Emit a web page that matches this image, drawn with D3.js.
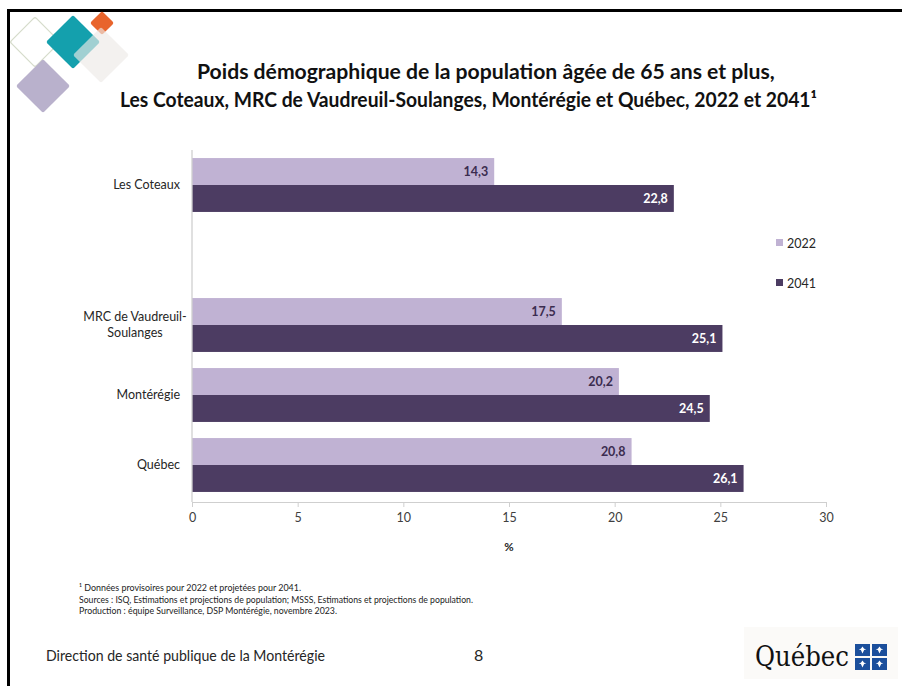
<!DOCTYPE html>
<html><head><meta charset="utf-8">
<script src="https://cdn.jsdelivr.net/npm/d3@7"></script>
<style>
html,body{margin:0;padding:0;background:#fff;}
svg{display:block;font-family:Lato,"Open Sans",sans-serif;}
</style></head>
<body>
<svg id="c" width="902" height="686"></svg>
<script>
// ---- data ----
const categories = ["Les Coteaux", "", "MRC de Vaudreuil-Soulanges", "Montérégie", "Québec"];
const categoryLabels = [["Les Coteaux"], [], ["MRC de Vaudreuil-", "Soulanges"], ["Montérégie"], ["Québec"]];
const seriesNames = ["2022", "2041"];
const values2022 = [14.3, null, 17.5, 20.2, 20.8];
const values2041 = [22.8, null, 25.1, 24.5, 26.1];
const xTicks = [0, 5, 10, 15, 20, 25, 30];
const titleLines = ["Poids démographique de la population âgée de 65 ans et plus,",
                    "Les Coteaux, MRC de Vaudreuil-Soulanges, Montérégie et Québec, 2022 et 2041¹"];
const footnotes = ["¹ Données provisoires pour 2022 et projetées pour 2041.",
  "Sources : ISQ, Estimations et projections de population; MSSS, Estimations et projections de population.",
  "Production : équipe Surveillance, DSP Montérégie, novembre 2023."];
const colors = {"2022": "#c0b2d3", "2041": "#4c3c62"};

const svg = d3.select("#c");
const fmt = v => d3.format(".1f")(v).replace(".", ",");

function squeeze(sel, w) {
  const len = sel.node().getComputedTextLength();
  if (len > w) sel.attr("textLength", w).attr("lengthAdjust", "spacingAndGlyphs");
  else {
    const fs = parseFloat(sel.attr("font-size"));
    sel.attr("font-size", (fs * w / len).toFixed(2));
  }
  return sel;
}

// ---- slide frame ----
svg.append("path").attr("d", "M8.5,686 V10.5 H902").attr("fill", "none").attr("stroke", "#000").attr("stroke-width", 3);

// ---- decorative logo ----
const logo = svg.append("g");
function diamond(cx, cy, r, fill, stroke, op) {
  logo.append("rect").attr("x", -r / Math.SQRT2).attr("y", -r / Math.SQRT2)
    .attr("width", r * Math.SQRT2).attr("height", r * Math.SQRT2).attr("rx", 2)
    .attr("transform", `translate(${cx},${cy}) rotate(45)`)
    .attr("fill", fill).attr("stroke", stroke || "none").attr("stroke-width", 1.3).attr("opacity", op || 1);
}
diamond(35, 42, 25, "none", "#d6dccb");
diamond(43, 86, 27, "#b9b1cc");
diamond(73, 42, 27, "#14a0ad");
diamond(102, 23, 12, "#e8642c");
diamond(101, 55, 28, "#ece9e6", null, 0.65);

// ---- title ----
const t1 = svg.append("text").attr("x", 197).attr("y", 79)
  .attr("font-size", 20).attr("font-weight", "bold").attr("fill", "#111").text(titleLines[0]);
squeeze(t1, 578);
const t2 = svg.append("text").attr("x", 120).attr("y", 107)
  .attr("font-size", 20).attr("font-weight", "bold").attr("fill", "#111").text(titleLines[1]);
squeeze(t2, 697);

// ---- chart ----
const x = d3.scaleLinear().domain([0, 30]).range([192, 826]);
const y = d3.scaleBand().domain(categories).range([150, 500]).paddingInner(0.23).paddingOuter(0.115);
const ys = d3.scaleBand().domain(seriesNames).range([0, y.bandwidth()]);

const rows = categories.map((c, i) => ({c, i, v: {"2022": values2022[i], "2041": values2041[i]}}));

const gBars = svg.append("g");
rows.forEach(r => {
  seriesNames.forEach(s => {
    const v = r.v[s];
    if (v == null) return;
    gBars.append("rect")
      .attr("x", x(0)).attr("y", y(r.c) + ys(s))
      .attr("width", x(v) - x(0)).attr("height", ys.bandwidth())
      .attr("fill", colors[s]);
    gBars.append("text")
      .attr("x", x(v) - 6).attr("y", y(r.c) + ys(s) + ys.bandwidth() / 2 + 4.5)
      .attr("text-anchor", "end").attr("font-size", 12.5).attr("font-weight", "bold")
      .attr("fill", s === "2022" ? "#3b2c4f" : "#fff").text(fmt(v));
  });
});

// x axis
const xAxis = svg.append("g").attr("transform", "translate(0,502)")
  .call(d3.axisBottom(x).tickValues(xTicks).tickSize(5).tickSizeOuter(0).tickPadding(6));
xAxis.select(".domain").attr("stroke", "#cfcfcf");
xAxis.selectAll(".tick line").attr("stroke", "#cfcfcf");
xAxis.selectAll(".tick text").attr("font-size", 12.5).attr("fill", "#404040").attr("font-family", "Lato,sans-serif");

// y axis line
svg.append("line").attr("x1", x(0)).attr("x2", x(0)).attr("y1", 150).attr("y2", 502)
  .attr("stroke", "#cfcfcf").attr("stroke-width", 1.3);

// category labels
rows.forEach(r => {
  const lines = categoryLabels[r.i];
  if (!lines.length) return;
  const cy = y(r.c) + y.bandwidth() / 2;
  const multi = lines.length > 1;
  const t = svg.append("text").attr("font-size", 12.5).attr("fill", "#262626")
    .attr("text-anchor", multi ? "middle" : "end");
  lines.forEach((l, k) => {
    t.append("tspan").attr("x", multi ? 135 : 180)
      .attr("y", cy + 4 + (k - (lines.length - 1) / 2) * 16).text(l);
  });
});

// x axis title
svg.append("text").attr("x", x(15)).attr("y", 551).attr("text-anchor", "middle")
  .attr("font-size", 11.5).attr("font-weight", "bold").attr("fill", "#262626").text("%");

// legend
seriesNames.forEach((s, i) => {
  const ly = 243 + i * 40;
  svg.append("rect").attr("x", 776).attr("y", ly - 4).attr("width", 7).attr("height", 7).attr("fill", colors[s]);
  svg.append("text").attr("x", 787).attr("y", ly + 4.5).attr("font-size", 12.5).attr("fill", "#262626").text(s);
});

// footnotes
const fw = [222, 394, 258];
footnotes.forEach((f, i) => {
  const t = svg.append("text").attr("x", 79).attr("y", 591 + i * 11.5).attr("font-size", 9.5)
    .attr("fill", "#222").text(f);
  squeeze(t, fw[i]);
});

// bottom
const bt = svg.append("text").attr("x", 46).attr("y", 661).attr("font-size", 16).attr("fill", "#262626")
  .text("Direction de santé publique de la Montérégie");
squeeze(bt, 279);
svg.append("text").attr("x", 474).attr("y", 661).attr("font-size", 16).attr("fill", "#262626").text("8");

// Québec logo
svg.append("rect").attr("x", 744).attr("y", 627).attr("width", 154).attr("height", 52).attr("fill", "#fbfaf8");
const qt = svg.append("text").attr("x", 755).attr("y", 666).attr("font-size", 27)
  .attr("font-family", "'DejaVu Serif','Liberation Serif',serif").attr("fill", "#111").text("Québec");
squeeze(qt, 94);
[[855, 644], [872, 644], [855, 658], [872, 658]].forEach(([fx, fy]) => {
  svg.append("rect").attr("x", fx).attr("y", fy).attr("width", 15).attr("height", 12).attr("fill", "#1b4f9c");
  svg.append("path").attr("d", `M${fx + 7.5},${fy + 2.5} l1.6,2.2 l2.2,0.6 l-2.2,0.8 l-1.6,3.4 l-1.6,-3.4 l-2.2,-0.8 l2.2,-0.6 z`)
    .attr("fill", "#fff");
});
</script>
</body></html>
